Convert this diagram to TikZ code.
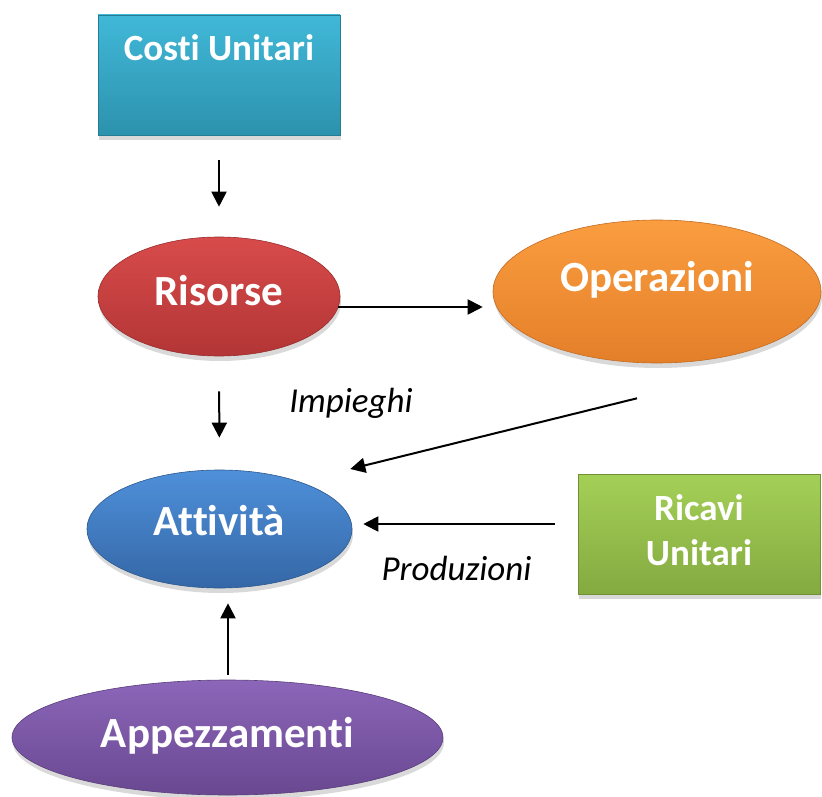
\documentclass[tikz,border=0pt]{standalone}
\usepackage{fontspec}
\setmainfont{Carlito}[Ligatures=NoCommon,RawFeature=-liga]
\usetikzlibrary{shapes.geometric,shadows,arrows.meta,calc}
\definecolor{costiT}{HTML}{41B8D8}
\definecolor{costiB}{HTML}{2C92AD}
\definecolor{risT}{HTML}{D84B4B}
\definecolor{risB}{HTML}{B33535}
\definecolor{opT}{HTML}{FA9D3F}
\definecolor{opB}{HTML}{E47F29}
\definecolor{attT}{HTML}{4F90DA}
\definecolor{attB}{HTML}{3467A6}
\definecolor{ricT}{HTML}{A4D057}
\definecolor{ricB}{HTML}{84AA40}
\definecolor{appT}{HTML}{8C66B9}
\definecolor{appB}{HTML}{694891}
\begin{document}
\begin{tikzpicture}[x=1pt,y=-1pt,
  shad/.style={drop shadow={shadow xshift=1pt,shadow yshift=-5pt,opacity=0.3}},
  box/.style={rectangle,minimum width=242pt,minimum height=120pt,inner sep=0pt,
    text=white,font=\fontsize{37}{45}\selectfont\bfseries,align=center,shad},
  oval/.style={ellipse,inner sep=0pt,text=white,
    font=\fontsize{43}{50}\selectfont\bfseries,shad},
  conn/.style={line width=2pt,-{Triangle[length=15pt,width=15pt]}},
  lbl/.style={font=\fontsize{35}{40}\selectfont\itshape,anchor=base,inner sep=0pt}]
\useasboundingbox (0,0) rectangle (822,797);
% nodes
\node[box,top color=costiT,bottom color=costiB,draw=costiB!85!black,line width=0.6pt,
  text height=26pt,text depth=54pt] (costi) at (219,75) {Costi Unitari};
\node[oval,minimum width=242pt,minimum height=119pt,top color=risT,bottom color=risB,
  draw=risB!85!black,line width=0.6pt,text height=28pt,text depth=11pt] (ris) at (219,296.5) {Risorse};
\node[oval,minimum width=328pt,minimum height=143pt,top color=opT,bottom color=opB,
  draw=opB!85!black,line width=0.6pt,text height=28pt,text depth=28pt] (op) at (657,291.5) {Operazioni};
\node[oval,minimum width=265pt,minimum height=118pt,top color=attT,bottom color=attB,
  draw=attB!85!black,line width=0.6pt,text height=28pt,text depth=16pt] (att) at (219.5,529) {Attività};
\node[box,top color=ricT,bottom color=ricB,draw=ricB!85!black,line width=0.6pt]
  (ric) at (699,534) {Ricavi\\Unitari\rule[-8pt]{0pt}{0pt}};
\node[oval,minimum width=431pt,minimum height=115pt,top color=appT,bottom color=appB,
  draw=appB!85!black,line width=0.6pt,text height=28pt,text depth=9pt] (app) at (227.5,737.5) {Appezzamenti};
% labels
\node[lbl] (impieghi) at (351,412) {Impieghi};
\node[lbl] (produzioni) at (456.5,580) {Produzioni};
% connector ends
\coordinate (diagS) at ($(op.south)+(-20,35)$);
\coordinate (diagE) at ($(att.east)+(-2,-60)$);
\coordinate (prodS) at ($(ric.west)+(-23,-10)$);
\coordinate (prodE) at ($(att.east)+(11,-5)$);
\coordinate (appS) at ($(app.north)+(0.5,-5)$);
\coordinate (appE) at ($(app.north |- att.south)+(0.5,15)$);
% connectors
\draw[conn,shorten <=25pt,shorten >=30pt] (costi.south) -- (ris.north);
\draw[conn] ($(ris.east)+(-2,10.5)$) -- ($(op.west)+(-10,15.5)$);
\draw[conn,shorten <=35pt,shorten >=32pt] (ris.south) -- (att.north);
\draw[conn] (diagS) -- (diagE);
\draw[conn] (prodS) -- (prodE);
\draw[conn] (appS) -- (appE);
\end{tikzpicture}
\end{document}
